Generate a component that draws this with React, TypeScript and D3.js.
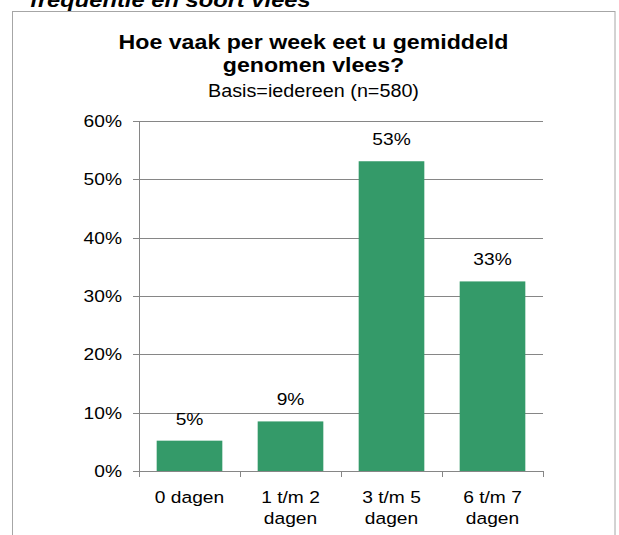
import React from "react";
import * as d3 from "d3";

const categories: string[][] = [["0 dagen"], ["1 t/m 2", "dagen"], ["3 t/m 5", "dagen"], ["6 t/m 7", "dagen"]];
const values: number[] = [5.2, 8.5, 53.1, 32.5];
const valueLabels: string[] = ["5%", "9%", "53%", "33%"];
const yTicks: number[] = [0, 10, 20, 30, 40, 50, 60];
const titleLines: string[] = ["Hoe vaak per week eet u gemiddeld", "genomen vlees?"];
const subtitle = "Basis=iedereen (n=580)";
const topText = "frequentie en soort vlees";

const W = 619;
const H = 535;
const SX = 1.13;
const FONT = "'Liberation Sans', Arial, sans-serif";
const GRID = "#868686";
const BAR = "#349a69";

function T(props: {
  x: number; y: number; size: number; anchor?: string; weight?: string; italic?: boolean; children: React.ReactNode;
}) {
  const { x, y, size, anchor = "middle", weight = "normal", italic = false, children } = props;
  return (
    <text
      transform={`translate(${x},${y}) scale(${SX},1)`}
      fontSize={size}
      fontFamily={FONT}
      fontWeight={weight}
      fontStyle={italic ? "italic" : "normal"}
      textAnchor={anchor}
      fill="#000"
    >
      {children}
    </text>
  );
}

export default function App() {
  const left = 139, right = 543, top = 121, bottom = 471;
  const x = d3.scaleBand<number>().domain(d3.range(categories.length)).range([left, right]).paddingInner(0.35).paddingOuter(0.175);
  const step = (right - left) / categories.length;
  const y = d3.scaleLinear().domain([0, 60]).range([bottom, top]);
  const cx = (i: number) => (x(i) as number) + x.bandwidth() / 2;

  return (
    <svg width={W} height={H} style={{ position: "absolute", left: 0, top: 0, background: "#fff" }}>
      <rect x={0} y={0} width={W} height={H} fill="#fff" />
      <T x={30} y={6.5} size={21} anchor="start" weight="bold" italic>{topText}</T>
      <rect x={12.5} y={11.5} width={602.5} height={H + 10} fill="none" stroke="#a6a6a6" strokeWidth={1} />

      <T x={313.5} y={49} size={20.5} weight="bold">{titleLines[0]}</T>
      <T x={313.5} y={72} size={20.5} weight="bold">{titleLines[1]}</T>
      <T x={313.5} y={97} size={17.5}>{subtitle}</T>

      {yTicks.map((t) => (
        <g key={t}>
          <line x1={left - 6} x2={right} y1={Math.round(y(t)) + 0.5} y2={Math.round(y(t)) + 0.5} stroke={GRID} strokeWidth={1} />
          <T x={122} y={y(t) + 6} size={17} anchor="end">{`${t}%`}</T>
        </g>
      ))}
      <line x1={left + 0.5} x2={left + 0.5} y1={top} y2={bottom + 6} stroke={GRID} strokeWidth={1} />
      {d3.range(categories.length + 1).map((i) => (
        <line key={i} x1={Math.round(left + i * step) + 0.5} x2={Math.round(left + i * step) + 0.5} y1={bottom} y2={bottom + 6} stroke={GRID} strokeWidth={1} />
      ))}

      {values.map((v, i) => (
        <g key={i}>
          <rect x={x(i)} y={y(v)} width={x.bandwidth()} height={bottom - y(v)} fill={BAR} />
          <T x={cx(i)} y={y(v) - 16} size={17}>{valueLabels[i]}</T>
          {categories[i].map((line, j) => (
            <T key={j} x={cx(i)} y={502.5 + j * 21} size={17}>{line}</T>
          ))}
        </g>
      ))}
    </svg>
  );
}
